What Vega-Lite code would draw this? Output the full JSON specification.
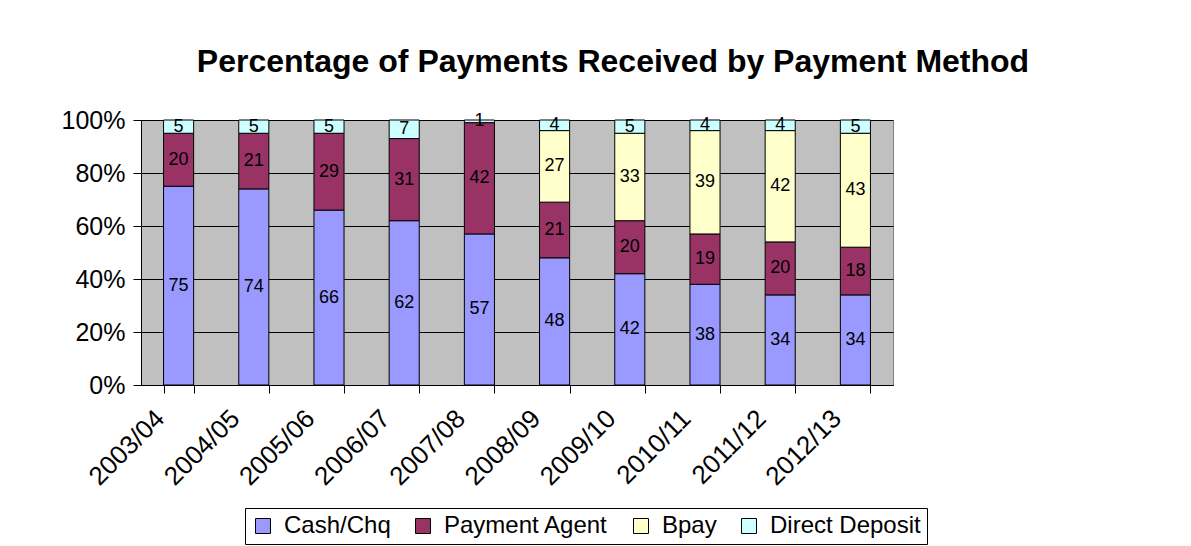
{
  "$schema": "https://vega.github.io/schema/vega-lite/v6.json",
  "width": 752,
  "height": 265,
  "autosize": "none",
  "padding": {"left": 141, "top": 120, "right": 298, "bottom": 161},
  "background": "white",
  "config": {
    "font": "Liberation Sans",
    "view": {"fill": "#C0C0C0", "stroke": "#808080", "strokeWidth": 1}
  },
  "title": {
    "text": "Percentage of Payments Received by Payment Method",
    "font": "Liberation Sans",
    "fontSize": 32,
    "fontWeight": "bold",
    "color": "black",
    "anchor": "middle",
    "dx": 96,
    "offset": 29
  },
  "data": {
    "values": [
      {"year": "2003/04", "method": "Cash/Chq", "k": 1, "pct": 75},
      {"year": "2003/04", "method": "Payment Agent", "k": 2, "pct": 20},
      {"year": "2003/04", "method": "Direct Deposit", "k": 4, "pct": 5},
      {"year": "2004/05", "method": "Cash/Chq", "k": 1, "pct": 74},
      {"year": "2004/05", "method": "Payment Agent", "k": 2, "pct": 21},
      {"year": "2004/05", "method": "Direct Deposit", "k": 4, "pct": 5},
      {"year": "2005/06", "method": "Cash/Chq", "k": 1, "pct": 66},
      {"year": "2005/06", "method": "Payment Agent", "k": 2, "pct": 29},
      {"year": "2005/06", "method": "Direct Deposit", "k": 4, "pct": 5},
      {"year": "2006/07", "method": "Cash/Chq", "k": 1, "pct": 62},
      {"year": "2006/07", "method": "Payment Agent", "k": 2, "pct": 31},
      {"year": "2006/07", "method": "Direct Deposit", "k": 4, "pct": 7},
      {"year": "2007/08", "method": "Cash/Chq", "k": 1, "pct": 57},
      {"year": "2007/08", "method": "Payment Agent", "k": 2, "pct": 42},
      {"year": "2007/08", "method": "Direct Deposit", "k": 4, "pct": 1},
      {"year": "2008/09", "method": "Cash/Chq", "k": 1, "pct": 48},
      {"year": "2008/09", "method": "Payment Agent", "k": 2, "pct": 21},
      {"year": "2008/09", "method": "Bpay", "k": 3, "pct": 27},
      {"year": "2008/09", "method": "Direct Deposit", "k": 4, "pct": 4},
      {"year": "2009/10", "method": "Cash/Chq", "k": 1, "pct": 42},
      {"year": "2009/10", "method": "Payment Agent", "k": 2, "pct": 20},
      {"year": "2009/10", "method": "Bpay", "k": 3, "pct": 33},
      {"year": "2009/10", "method": "Direct Deposit", "k": 4, "pct": 5},
      {"year": "2010/11", "method": "Cash/Chq", "k": 1, "pct": 38},
      {"year": "2010/11", "method": "Payment Agent", "k": 2, "pct": 19},
      {"year": "2010/11", "method": "Bpay", "k": 3, "pct": 39},
      {"year": "2010/11", "method": "Direct Deposit", "k": 4, "pct": 4},
      {"year": "2011/12", "method": "Cash/Chq", "k": 1, "pct": 34},
      {"year": "2011/12", "method": "Payment Agent", "k": 2, "pct": 20},
      {"year": "2011/12", "method": "Bpay", "k": 3, "pct": 42},
      {"year": "2011/12", "method": "Direct Deposit", "k": 4, "pct": 4},
      {"year": "2012/13", "method": "Cash/Chq", "k": 1, "pct": 34},
      {"year": "2012/13", "method": "Payment Agent", "k": 2, "pct": 18},
      {"year": "2012/13", "method": "Bpay", "k": 3, "pct": 43},
      {"year": "2012/13", "method": "Direct Deposit", "k": 4, "pct": 5}
    ]
  },
  "encoding": {
    "x": {
      "field": "year",
      "type": "nominal",
      "scale": {"paddingInner": 0.6, "paddingOuter": 0.3},
      "axis": {
        "title": null,
        "labelAngle": -45,
        "labelFontSize": 26,
        "labelColor": "black",
        "labelPadding": 12,
        "labelOffset": -28,
        "tickBand": "extent",
        "tickSize": 8,
        "tickColor": "black",
        "domainColor": "black",
        "grid": false
      }
    },
    "y": {
      "field": "pct",
      "type": "quantitative",
      "stack": "normalize",
      "axis": {
        "title": null,
        "format": ".0%",
        "values": [0, 0.2, 0.4, 0.6, 0.8, 1],
        "labelFontSize": 25,
        "labelColor": "black",
        "labelPadding": 8,
        "tickSize": 8,
        "tickColor": "black",
        "domainColor": "black",
        "grid": true,
        "gridColor": "black",
        "gridOpacity": 1
      }
    },
    "order": {"field": "k", "type": "quantitative"}
  },
  "layer": [
    {
      "mark": {"type": "bar", "stroke": "black", "strokeWidth": 1},
      "encoding": {
        "color": {
          "field": "method",
          "type": "nominal",
          "sort": ["Cash/Chq", "Payment Agent", "Bpay", "Direct Deposit"],
          "scale": {
            "domain": ["Cash/Chq", "Payment Agent", "Bpay", "Direct Deposit"],
            "range": ["#9999FF", "#993366", "#FFFFCC", "#CCFFFF"]
          },
          "legend": {
            "title": null,
            "orient": "none",
            "legendX": 104,
            "legendY": 388,
            "direction": "horizontal",
            "strokeColor": "black",
            "padding": 6,
            "symbolType": "square",
            "symbolSize": 225,
            "symbolStrokeColor": "black",
            "symbolStrokeWidth": 1,
            "symbolOpacity": 1,
            "labelFontSize": 24,
            "labelLimit": 0,
            "labelColor": "black",
            "labelOffset": 9,
            "columnPadding": 20
          }
        }
      }
    },
    {
      "mark": {"type": "text", "fontSize": 18, "color": "black", "baseline": "middle"},
      "encoding": {
        "y": {"field": "pct", "type": "quantitative", "stack": "normalize", "bandPosition": 0.5},
        "detail": {"field": "method"},
        "text": {"field": "pct", "type": "quantitative"}
      }
    }
  ]
}
